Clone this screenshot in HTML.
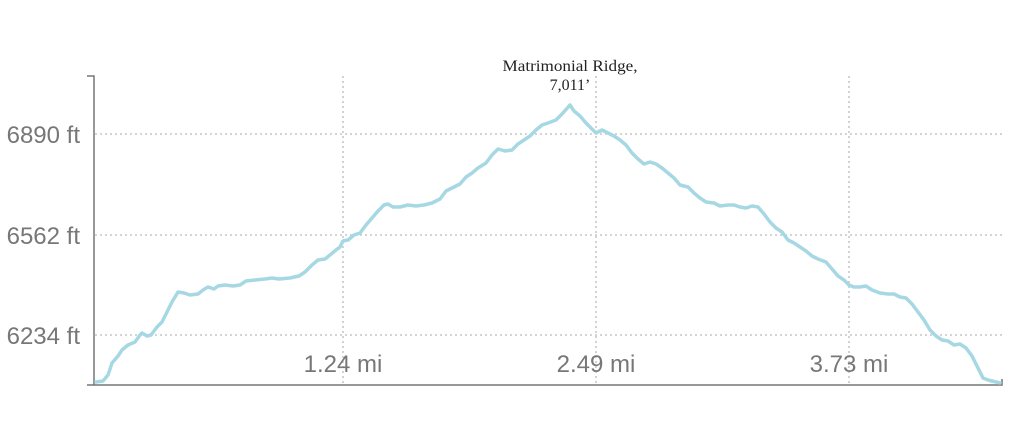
<!DOCTYPE html>
<html><head><meta charset="utf-8"><style>
html,body{margin:0;padding:0;background:#fff;}
svg{display:block;}
</style></head><body>
<svg width="1012" height="438" viewBox="0 0 1012 438" xmlns="http://www.w3.org/2000/svg">
<g stroke="#bbb" stroke-width="1.3" stroke-dasharray="2,3" fill="none">
<line x1="95" y1="134" x2="1002" y2="134"/>
<line x1="95" y1="235" x2="1002" y2="235"/>
<line x1="95" y1="335" x2="1002" y2="335"/>
<line x1="343" y1="76" x2="343" y2="385"/>
<line x1="596" y1="76" x2="596" y2="385"/>
<line x1="849" y1="76" x2="849" y2="385"/>
</g>
<g stroke="#777" stroke-width="1.5" fill="none">
<polyline points="87,76 94,76 94,385 87,385"/>
<polyline points="94,385 1002,385 1002,379"/>
</g>
<g font-family="Liberation Sans, sans-serif" font-size="24" fill="#777">
<text x="80" y="143" text-anchor="end">6890 ft</text>
<text x="80" y="244" text-anchor="end">6562 ft</text>
<text x="80" y="344" text-anchor="end">6234 ft</text>
<text x="343" y="372" text-anchor="middle">1.24 mi</text>
<text x="596" y="372" text-anchor="middle">2.49 mi</text>
<text x="849" y="372" text-anchor="middle">3.73 mi</text>
</g>
<g font-family="Liberation Serif, serif" font-size="16" fill="#222" text-anchor="middle">
<text x="570" y="71" textLength="135" lengthAdjust="spacingAndGlyphs">Matrimonial Ridge,</text>
<text x="570" y="90">7,011’</text>
</g>
<polyline fill="none" stroke="#a6d8e4" stroke-width="3.5" stroke-linejoin="round" stroke-linecap="round" points="96,382 103,381 108,375 112,363 118,356 122,350 128,345 135,342 140,335 142,333 147,336 151,335 157,327 162,322 167,312 172,302 178,292 184,293 190,295 198,294 203,290 208,287 214,289 218,286 225,285 233,286 240,285 246,281 255,280 265,279 272,278 279,279 290,278 299,276 305,272 312,265 318,260 325,259 330,255 336,250 340,247 343,241 348,240 354,235 360,233 366,225 372,218 378,211 384,205 388,204 393,207 400,207 408,205 416,206 424,205 432,203 440,199 446,191 452,188 460,184 466,177 472,173 478,168 486,163 492,155 498,149 505,151 512,150 518,144 524,140 530,136 536,130 542,125 548,123 556,120 562,114 570,105 574,111 580,116 586,123 591,128 596,133 602,130 608,133 614,136 620,140 626,145 632,153 638,159 644,164 650,162 656,164 662,168 668,173 674,178 680,185 688,187 694,193 700,198 706,202 714,203 720,206 728,205 734,205 740,207 746,208 752,206 758,207 764,214 770,222 776,228 782,232 788,240 794,243 800,247 806,251 812,256 818,259 826,262 832,269 838,276 844,280 849,285 854,287 860,287 866,286 872,290 880,293 888,294 894,294 900,297 906,298 912,304 918,312 924,320 930,330 936,336 942,340 948,341 954,345 960,344 966,348 972,356 978,368 983,378 988,380 996,382 1000,383"/>
</svg>
</body></html>
